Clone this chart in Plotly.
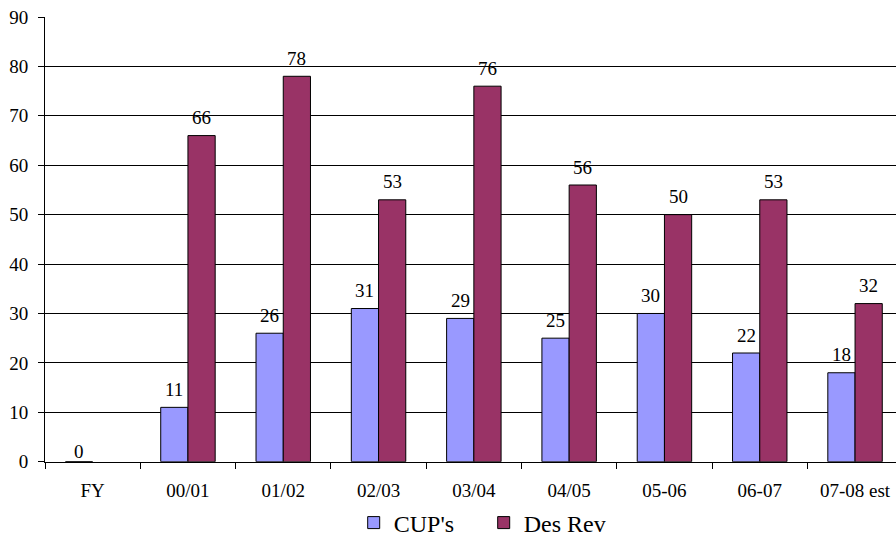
import plotly.graph_objects as go

categories = ["FY", "00/01", "01/02", "02/03", "03/04", "04/05", "05-06", "06-07", "07-08 est"]
cups = [0, 11, 26, 31, 29, 25, 30, 22, 18]
des_rev = [None, 66, 78, 53, 76, 56, 50, 53, 32]
y_ticks = [0, 10, 20, 30, 40, 50, 60, 70, 80, 90]

FONT = "Liberation Serif"
CUP_COLOR = "#9999FF"
DES_COLOR = "#993366"

fig = go.Figure()
fig.add_trace(go.Bar(name="CUP's", x=categories, y=cups, marker=dict(color=CUP_COLOR, line=dict(color="black", width=1))))
fig.add_trace(go.Bar(name="Des Rev", x=categories, y=des_rev, marker=dict(color=DES_COLOR, line=dict(color="black", width=1))))

# data labels
cat_w = 95.3
bar_w = cat_w / 3.5
annotations = []
for series, sign in ((cups, -1), (des_rev, 1)):
    for c, v in zip(categories, series):
        if v is None:
            continue
        annotations.append(dict(
            x=c, y=v, xref="x", yref="y", text=str(v), showarrow=False,
            xshift=sign * bar_w / 2, yshift=18 if v > 0 else 10, yanchor="middle",
            font=dict(family=FONT, size=19, color="black"),
        ))

fig.update_layout(
    width=896, height=539,
    margin=dict(l=45, r=0, t=17, b=75),
    paper_bgcolor="white", plot_bgcolor="white",
    barmode="group", bargap=1.5 / 3.5, bargroupgap=0,
    font=dict(family=FONT, size=19, color="black"),
    showlegend=True,
    legend=dict(orientation="h", x=0.5155, xanchor="center", xref="paper",
                y=1 - 523 / 539, yanchor="middle", yref="container",
                bgcolor="rgba(0,0,0,0)",
                font=dict(family=FONT, size=24, color="black"), itemwidth=30,
                entrywidth=85, entrywidthmode="pixels"),
    annotations=annotations,
    xaxis=dict(
        type="category", range=[-0.5, -0.5 + 851 / cat_w],
        showline=True, linecolor="black", linewidth=1,
        ticks="outside", ticklen=6, tickcolor="black", tickson="boundaries",
        showgrid=False, tickfont=dict(family=FONT, size=19),
        ticklabelstandoff=11,
    ),
    yaxis=dict(
        range=[0, 90], tickvals=y_ticks,
        showline=True, linecolor="black", linewidth=1,
        ticks="outside", ticklen=6, tickcolor="black",
        showgrid=True, gridcolor="black", gridwidth=1,
        zeroline=False, tickfont=dict(family=FONT, size=19),
        ticklabelstandoff=6,
    ),
)

fig.write_html("out.html", config={"displayModeBar": False},
               post_script="document.body.style.margin='0';document.body.style.overflow='hidden';")
